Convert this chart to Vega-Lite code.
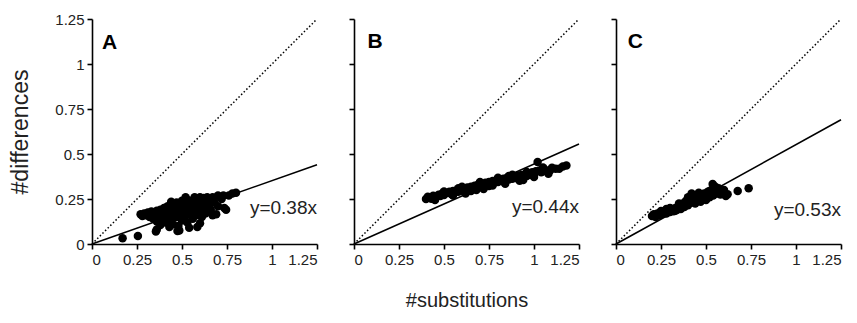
{
  "$schema": "https://vega.github.io/schema/vega-lite/v6.json",
  "background": "white",
  "padding": {"left": 9, "top": 12, "right": 5, "bottom": 5},
  "bounds": "flush",
  "spacing": 37,
  "config": {
    "view": {"stroke": null},
    "font": "Liberation Sans",
    "axis": {
      "grid": false,
      "domainColor": "black",
      "domainWidth": 1.6,
      "tickColor": "black",
      "tickWidth": 1.6,
      "tickSize": 5,
      "labelFont": "Liberation Sans",
      "labelFontSize": 15,
      "labelColor": "#222222",
      "labelPadding": 3,
      "labelOverlap": false,
      "titleFont": "Liberation Sans",
      "titleFontSize": 20,
      "titleFontWeight": "normal",
      "titleColor": "#222222"
    }
  },
  "datasets": {
    "pts": [
      {"panel":"A","x":0.17,"y":0.032},{"panel":"A","x":0.255,"y":0.045},{"panel":"A","x":0.355,"y":0.07},{"panel":"A","x":0.36,"y":0.08},{"panel":"A","x":0.475,"y":0.072},{"panel":"A","x":0.485,"y":0.075},{"panel":"A","x":0.54,"y":0.09},{"panel":"A","x":0.585,"y":0.095},
      {"panel":"A","x":0.27,"y":0.165},{"panel":"A","x":0.28,"y":0.155},{"panel":"A","x":0.29,"y":0.17},{"panel":"A","x":0.30,"y":0.16},{"panel":"A","x":0.31,"y":0.175},{"panel":"A","x":0.32,"y":0.15},{"panel":"A","x":0.33,"y":0.18},{"panel":"A","x":0.34,"y":0.14},{"panel":"A","x":0.35,"y":0.165},{"panel":"A","x":0.36,"y":0.185},{"panel":"A","x":0.37,"y":0.155},{"panel":"A","x":0.38,"y":0.13},{"panel":"A","x":0.38,"y":0.19},{"panel":"A","x":0.39,"y":0.17},{"panel":"A","x":0.40,"y":0.2},{"panel":"A","x":0.40,"y":0.15},{"panel":"A","x":0.41,"y":0.12},{"panel":"A","x":0.42,"y":0.18},{"panel":"A","x":0.42,"y":0.21},{"panel":"A","x":0.43,"y":0.165},{"panel":"A","x":0.44,"y":0.19},{"panel":"A","x":0.44,"y":0.14},{"panel":"A","x":0.45,"y":0.215},{"panel":"A","x":0.45,"y":0.11},{"panel":"A","x":0.46,"y":0.17},{"panel":"A","x":0.46,"y":0.2},{"panel":"A","x":0.47,"y":0.23},{"panel":"A","x":0.47,"y":0.15},{"panel":"A","x":0.48,"y":0.19},{"panel":"A","x":0.48,"y":0.1},{"panel":"A","x":0.49,"y":0.215},{"panel":"A","x":0.49,"y":0.165},{"panel":"A","x":0.50,"y":0.24},{"panel":"A","x":0.50,"y":0.2},{"panel":"A","x":0.50,"y":0.13},{"panel":"A","x":0.51,"y":0.18},{"panel":"A","x":0.51,"y":0.225},{"panel":"A","x":0.52,"y":0.155},{"panel":"A","x":0.52,"y":0.2},{"panel":"A","x":0.53,"y":0.245},{"panel":"A","x":0.53,"y":0.12},{"panel":"A","x":0.54,"y":0.19},{"panel":"A","x":0.54,"y":0.22},{"panel":"A","x":0.55,"y":0.17},{"panel":"A","x":0.55,"y":0.24},{"panel":"A","x":0.56,"y":0.2},{"panel":"A","x":0.56,"y":0.14},{"panel":"A","x":0.57,"y":0.23},{"panel":"A","x":0.57,"y":0.185},{"panel":"A","x":0.58,"y":0.25},{"panel":"A","x":0.58,"y":0.16},{"panel":"A","x":0.59,"y":0.21},{"panel":"A","x":0.60,"y":0.26},{"panel":"A","x":0.60,"y":0.19},{"panel":"A","x":0.61,"y":0.235},{"panel":"A","x":0.61,"y":0.15},{"panel":"A","x":0.62,"y":0.2},{"panel":"A","x":0.62,"y":0.255},{"panel":"A","x":0.63,"y":0.17},{"panel":"A","x":0.63,"y":0.225},{"panel":"A","x":0.64,"y":0.26},{"panel":"A","x":0.65,"y":0.21},{"panel":"A","x":0.65,"y":0.24},{"panel":"A","x":0.66,"y":0.19},{"panel":"A","x":0.67,"y":0.26},{"panel":"A","x":0.67,"y":0.16},{"panel":"A","x":0.68,"y":0.23},{"panel":"A","x":0.69,"y":0.165},{"panel":"A","x":0.70,"y":0.27},{"panel":"A","x":0.70,"y":0.21},{"panel":"A","x":0.72,"y":0.25},{"panel":"A","x":0.73,"y":0.27},{"panel":"A","x":0.735,"y":0.2},{"panel":"A","x":0.745,"y":0.19},{"panel":"A","x":0.76,"y":0.27},{"panel":"A","x":0.78,"y":0.28},{"panel":"A","x":0.80,"y":0.285},{"panel":"A","x":0.44,"y":0.235},{"panel":"A","x":0.52,"y":0.26},{"panel":"A","x":0.57,"y":0.26},{"panel":"A","x":0.38,"y":0.105},{"panel":"A","x":0.43,"y":0.095},{"panel":"A","x":0.39,"y":0.14},{"panel":"A","x":0.36,"y":0.125},{"panel":"A","x":0.6,"y":0.115},{"panel":"A","x":0.66,"y":0.23},
      {"panel":"B","x":0.40,"y":0.250},{"panel":"B","x":0.41,"y":0.262},{"panel":"B","x":0.42,"y":0.258},{"panel":"B","x":0.43,"y":0.252},{"panel":"B","x":0.44,"y":0.268},{"panel":"B","x":0.45,"y":0.262},{"panel":"B","x":0.47,"y":0.274},{"panel":"B","x":0.48,"y":0.266},{"panel":"B","x":0.49,"y":0.280},{"panel":"B","x":0.50,"y":0.272},{"panel":"B","x":0.52,"y":0.284},{"panel":"B","x":0.53,"y":0.290},{"panel":"B","x":0.54,"y":0.278},{"panel":"B","x":0.55,"y":0.294},{"panel":"B","x":0.56,"y":0.286},{"panel":"B","x":0.57,"y":0.298},{"panel":"B","x":0.58,"y":0.290},{"panel":"B","x":0.59,"y":0.304},{"panel":"B","x":0.60,"y":0.296},{"panel":"B","x":0.61,"y":0.308},{"panel":"B","x":0.62,"y":0.300},{"panel":"B","x":0.63,"y":0.314},{"panel":"B","x":0.64,"y":0.304},{"panel":"B","x":0.65,"y":0.318},{"panel":"B","x":0.66,"y":0.308},{"panel":"B","x":0.67,"y":0.324},{"panel":"B","x":0.68,"y":0.300},{"panel":"B","x":0.69,"y":0.330},{"panel":"B","x":0.70,"y":0.320},{"panel":"B","x":0.71,"y":0.334},{"panel":"B","x":0.72,"y":0.324},{"panel":"B","x":0.73,"y":0.340},{"panel":"B","x":0.74,"y":0.330},{"panel":"B","x":0.75,"y":0.344},{"panel":"B","x":0.76,"y":0.336},{"panel":"B","x":0.77,"y":0.350},{"panel":"B","x":0.78,"y":0.340},{"panel":"B","x":0.79,"y":0.354},{"panel":"B","x":0.80,"y":0.344},{"panel":"B","x":0.81,"y":0.358},{"panel":"B","x":0.82,"y":0.350},{"panel":"B","x":0.83,"y":0.362},{"panel":"B","x":0.84,"y":0.354},{"panel":"B","x":0.85,"y":0.368},{"panel":"B","x":0.86,"y":0.358},{"panel":"B","x":0.87,"y":0.372},{"panel":"B","x":0.88,"y":0.362},{"panel":"B","x":0.89,"y":0.376},{"panel":"B","x":0.90,"y":0.366},{"panel":"B","x":0.91,"y":0.380},{"panel":"B","x":0.92,"y":0.370},{"panel":"B","x":0.93,"y":0.384},{"panel":"B","x":0.94,"y":0.356},{"panel":"B","x":0.95,"y":0.388},{"panel":"B","x":0.96,"y":0.378},{"panel":"B","x":0.97,"y":0.392},{"panel":"B","x":0.98,"y":0.384},{"panel":"B","x":0.99,"y":0.398},{"panel":"B","x":1.00,"y":0.388},{"panel":"B","x":1.01,"y":0.404},{"panel":"B","x":1.02,"y":0.455},{"panel":"B","x":1.03,"y":0.408},{"panel":"B","x":1.04,"y":0.398},{"panel":"B","x":1.06,"y":0.414},{"panel":"B","x":1.07,"y":0.404},{"panel":"B","x":1.09,"y":0.410},{"panel":"B","x":1.10,"y":0.424},{"panel":"B","x":1.12,"y":0.418},{"panel":"B","x":1.14,"y":0.418},{"panel":"B","x":1.16,"y":0.430},{"panel":"B","x":1.18,"y":0.436},
      {"panel":"B","x":0.45,"y":0.245},{"panel":"B","x":0.50,"y":0.292},{"panel":"B","x":0.55,"y":0.27},{"panel":"B","x":0.60,"y":0.318},{"panel":"B","x":0.65,"y":0.295},{"panel":"B","x":0.70,"y":0.345},{"panel":"B","x":0.72,"y":0.305},{"panel":"B","x":0.75,"y":0.322},{"panel":"B","x":0.80,"y":0.368},{"panel":"B","x":0.84,"y":0.335},{"panel":"B","x":0.88,"y":0.385},{"panel":"B","x":0.92,"y":0.352},{"panel":"B","x":0.96,"y":0.40},{"panel":"B","x":1.0,"y":0.372},{"panel":"B","x":1.05,"y":0.425},{"panel":"B","x":1.08,"y":0.39},{"panel":"B","x":0.62,"y":0.28},{"panel":"B","x":0.58,"y":0.31},{"panel":"B","x":0.77,"y":0.325},{"panel":"B","x":0.86,"y":0.378},
      {"panel":"C","x":0.20,"y":0.155},{"panel":"C","x":0.21,"y":0.165},{"panel":"C","x":0.22,"y":0.15},{"panel":"C","x":0.23,"y":0.17},{"panel":"C","x":0.24,"y":0.16},{"panel":"C","x":0.25,"y":0.184},{"panel":"C","x":0.26,"y":0.168},{"panel":"C","x":0.27,"y":0.18},{"panel":"C","x":0.28,"y":0.17},{"panel":"C","x":0.29,"y":0.19},{"panel":"C","x":0.30,"y":0.178},{"panel":"C","x":0.31,"y":0.195},{"panel":"C","x":0.32,"y":0.182},{"panel":"C","x":0.33,"y":0.2},{"panel":"C","x":0.34,"y":0.19},{"panel":"C","x":0.35,"y":0.21},{"panel":"C","x":0.36,"y":0.195},{"panel":"C","x":0.37,"y":0.22},{"panel":"C","x":0.38,"y":0.205},{"panel":"C","x":0.39,"y":0.24},{"panel":"C","x":0.40,"y":0.215},{"panel":"C","x":0.41,"y":0.25},{"panel":"C","x":0.42,"y":0.28},{"panel":"C","x":0.42,"y":0.23},{"panel":"C","x":0.43,"y":0.26},{"panel":"C","x":0.44,"y":0.225},{"panel":"C","x":0.45,"y":0.255},{"panel":"C","x":0.46,"y":0.24},{"panel":"C","x":0.47,"y":0.27},{"panel":"C","x":0.48,"y":0.25},{"panel":"C","x":0.49,"y":0.28},{"panel":"C","x":0.50,"y":0.245},{"panel":"C","x":0.51,"y":0.29},{"panel":"C","x":0.52,"y":0.26},{"panel":"C","x":0.53,"y":0.3},{"panel":"C","x":0.537,"y":0.333},{"panel":"C","x":0.54,"y":0.27},{"panel":"C","x":0.55,"y":0.32},{"panel":"C","x":0.56,"y":0.28},{"panel":"C","x":0.57,"y":0.3},{"panel":"C","x":0.58,"y":0.275},{"panel":"C","x":0.59,"y":0.29},{"panel":"C","x":0.61,"y":0.267},{"panel":"C","x":0.62,"y":0.277},{"panel":"C","x":0.676,"y":0.295},{"panel":"C","x":0.737,"y":0.31},{"panel":"C","x":0.35,"y":0.225},{"panel":"C","x":0.44,"y":0.27},{"panel":"C","x":0.30,"y":0.2},{"panel":"C","x":0.47,"y":0.235},
      {"panel":"C","x":0.25,"y":0.165},{"panel":"C","x":0.28,"y":0.195},{"panel":"C","x":0.33,"y":0.185},{"panel":"C","x":0.38,"y":0.23},{"panel":"C","x":0.43,"y":0.24},{"panel":"C","x":0.46,"y":0.285},{"panel":"C","x":0.5,"y":0.27},{"panel":"C","x":0.52,"y":0.295},{"panel":"C","x":0.55,"y":0.295},{"panel":"C","x":0.57,"y":0.31},{"panel":"C","x":0.6,"y":0.3},{"panel":"C","x":0.48,"y":0.265},{"panel":"C","x":0.40,"y":0.26},{"panel":"C","x":0.36,"y":0.215}
    ],
    "diag": [{"x":0,"y":0},{"x":1.25,"y":1.25}],
    "fits": [
      {"panel":"A","x":0,"y":0},{"panel":"A","x":1.25,"y":0.44},
      {"panel":"B","x":0,"y":0},{"panel":"B","x":1.25,"y":0.556},
      {"panel":"C","x":0,"y":0},{"panel":"C","x":1.25,"y":0.69}
    ],
    "labels": [
      {"panel":"A","x":1.25,"y":0.2,"text":"y=0.38x"},
      {"panel":"B","x":1.25,"y":0.207,"text":"y=0.44x"},
      {"panel":"C","x":1.25,"y":0.19,"text":"y=0.53x"}
    ],
    "letters": [
      {"panel":"A","x":0.055,"y":1.115,"text":"A"},
      {"panel":"B","x":0.075,"y":1.125,"text":"B"},
      {"panel":"C","x":0.065,"y":1.12,"text":"C"}
    ]
  },
  "hconcat": [
    {
      "width": 225, "height": 225,
      "encoding": {
        "x": {"field":"x","type":"quantitative","scale":{"domain":[0,1.25],"nice":false,"zero":false},
              "axis":{"values":[0,0.25,0.5,0.75,1,1.25],"format":".3~g","title":null}},
        "y": {"field":"y","type":"quantitative","scale":{"domain":[0,1.25],"nice":false,"zero":false},
              "axis":{"values":[0,0.25,0.5,0.75,1,1.25],"format":".3~g","title":"#differences","titlePadding":22,"titleFontSize":23}}
      },
      "layer": [
        {"data":{"name":"diag"},"mark":{"type":"line","color":"black","strokeWidth":1.5,"strokeDash":[1.5,2.2]}},
        {"data":{"name":"fits"},"transform":[{"filter":"datum.panel==='A'"}],"mark":{"type":"line","color":"black","strokeWidth":1.6}},
        {"data":{"name":"pts"},"transform":[{"filter":"datum.panel==='A'"}],"mark":{"type":"circle","color":"black","opacity":1,"size":72}},
        {"data":{"name":"labels"},"transform":[{"filter":"datum.panel==='A'"}],"mark":{"type":"text","align":"right","baseline":"middle","fontSize":19,"color":"#222222"},"encoding":{"text":{"field":"text"}}},
        {"data":{"name":"letters"},"transform":[{"filter":"datum.panel==='A'"}],"mark":{"type":"text","align":"left","baseline":"middle","fontSize":21,"fontWeight":"bold","color":"black"},"encoding":{"text":{"field":"text"}}}
      ]
    },
    {
      "width": 225, "height": 225,
      "encoding": {
        "x": {"field":"x","type":"quantitative","scale":{"domain":[0,1.25],"nice":false,"zero":false},
              "axis":{"values":[0,0.25,0.5,0.75,1,1.25],"format":".3~g","title":"#substitutions","titlePadding":23}},
        "y": {"field":"y","type":"quantitative","scale":{"domain":[0,1.25],"nice":false,"zero":false},
              "axis":{"values":[0,0.25,0.5,0.75,1,1.25],"labels":false,"title":null}}
      },
      "layer": [
        {"data":{"name":"diag"},"mark":{"type":"line","color":"black","strokeWidth":1.5,"strokeDash":[1.5,2.2]}},
        {"data":{"name":"fits"},"transform":[{"filter":"datum.panel==='B'"}],"mark":{"type":"line","color":"black","strokeWidth":1.6}},
        {"data":{"name":"pts"},"transform":[{"filter":"datum.panel==='B'"}],"mark":{"type":"circle","color":"black","opacity":1,"size":72}},
        {"data":{"name":"labels"},"transform":[{"filter":"datum.panel==='B'"}],"mark":{"type":"text","align":"right","baseline":"middle","fontSize":19,"color":"#222222"},"encoding":{"text":{"field":"text"}}},
        {"data":{"name":"letters"},"transform":[{"filter":"datum.panel==='B'"}],"mark":{"type":"text","align":"left","baseline":"middle","fontSize":21,"fontWeight":"bold","color":"black"},"encoding":{"text":{"field":"text"}}}
      ]
    },
    {
      "width": 225, "height": 225,
      "encoding": {
        "x": {"field":"x","type":"quantitative","scale":{"domain":[0,1.25],"nice":false,"zero":false},
              "axis":{"values":[0,0.25,0.5,0.75,1,1.25],"format":".3~g","title":null}},
        "y": {"field":"y","type":"quantitative","scale":{"domain":[0,1.25],"nice":false,"zero":false},
              "axis":{"values":[0,0.25,0.5,0.75,1,1.25],"labels":false,"title":null}}
      },
      "layer": [
        {"data":{"name":"diag"},"mark":{"type":"line","color":"black","strokeWidth":1.5,"strokeDash":[1.5,2.2]}},
        {"data":{"name":"fits"},"transform":[{"filter":"datum.panel==='C'"}],"mark":{"type":"line","color":"black","strokeWidth":1.6}},
        {"data":{"name":"pts"},"transform":[{"filter":"datum.panel==='C'"}],"mark":{"type":"circle","color":"black","opacity":1,"size":72}},
        {"data":{"name":"labels"},"transform":[{"filter":"datum.panel==='C'"}],"mark":{"type":"text","align":"right","baseline":"middle","fontSize":19,"color":"#222222"},"encoding":{"text":{"field":"text"}}},
        {"data":{"name":"letters"},"transform":[{"filter":"datum.panel==='C'"}],"mark":{"type":"text","align":"left","baseline":"middle","fontSize":21,"fontWeight":"bold","color":"black"},"encoding":{"text":{"field":"text"}}}
      ]
    }
  ]
}
